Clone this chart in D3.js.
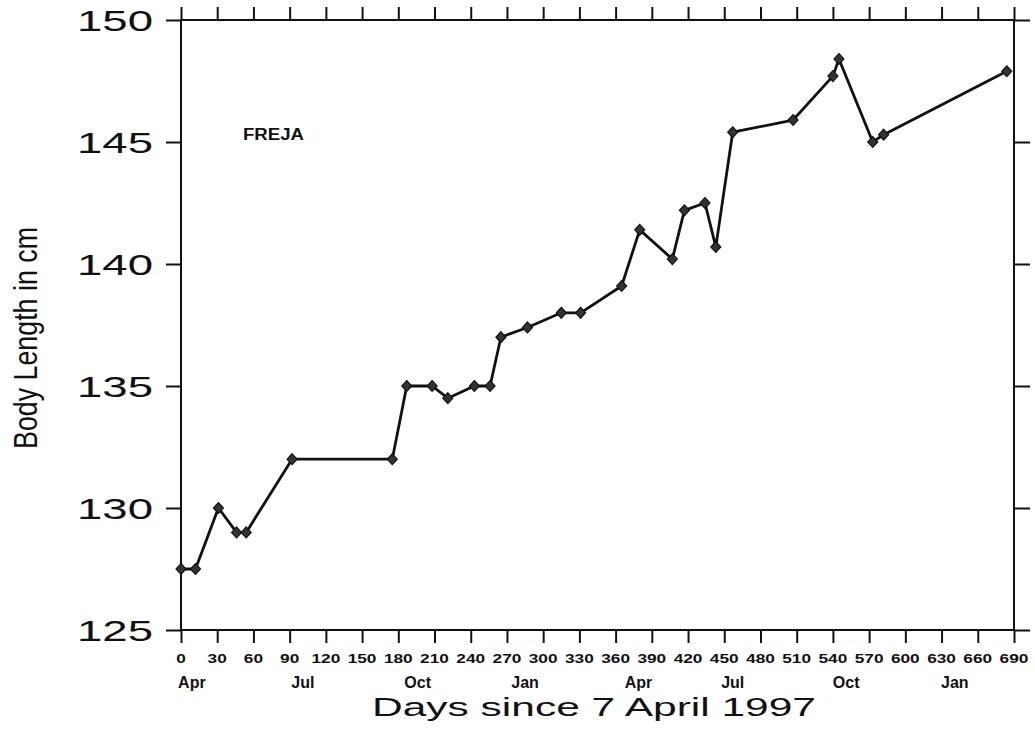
<!DOCTYPE html>
<html>
<head>
<meta charset="utf-8">
<script src="https://cdn.jsdelivr.net/npm/d3@7"></script>
<style>
  html, body { margin: 0; padding: 0; background: #fff; }
  svg { display: block; }
  text { font-family: "Liberation Sans", Arial, sans-serif; fill: #111; }
</style>
</head>
<body>
<svg id="chart" width="1035" height="729"></svg>
<script>
// ---- data ----
const days = [0, 12, 31, 46, 54, 92, 175, 187, 208, 221, 243, 256, 265, 287, 315, 331, 365, 380, 407, 417, 434, 443, 457, 507, 540, 545, 573, 582, 684];
const lengths = [127.5, 127.5, 130.0, 129.0, 129.0, 132.0, 132.0, 135.0, 135.0, 134.5, 135.0, 135.0, 137.0, 137.4, 138.0, 138.0, 139.1, 141.4, 140.2, 142.2, 142.5, 140.7, 145.4, 145.9, 147.7, 148.4, 145.0, 145.3, 147.9];
const xTicks = [0, 30, 60, 90, 120, 150, 180, 210, 240, 270, 300, 330, 360, 390, 420, 450, 480, 510, 540, 570, 600, 630, 660, 690];
const yTicks = [125, 130, 135, 140, 145, 150];
const monthLabels = ["Apr", "Jul", "Oct", "Jan", "Apr", "Jul", "Oct", "Jan"];
const monthDays = [9, 101, 196, 285, 379, 457, 551, 641];
const seriesName = "FREJA";
const xTitle = "Days since 7 April 1997";
const yTitle = "Body Length in cm";

// ---- layout ----
(function () {
const svg = d3.select("#chart");
const pL = 181, pR = 1014, pT = 20, pB = 630;
const x = d3.scaleLinear().domain([0, 690]).range([pL, pR]);
const y = d3.scaleLinear().domain([125, 150]).range([pB, pT]);

const stroke = "#111";

// frame
svg.append("rect")
  .attr("x", pL).attr("y", pT)
  .attr("width", pR - pL).attr("height", pB - pT)
  .attr("fill", "none").attr("stroke", stroke).attr("stroke-width", 2);

// bottom axis
const gb = svg.append("g").attr("transform", `translate(0,${pB})`)
  .call(d3.axisBottom(x).tickValues(xTicks).tickSize(13).tickFormat(""));
gb.select(".domain").remove();
gb.selectAll("line").attr("stroke", stroke).attr("stroke-width", 2);

// top axis
const gt = svg.append("g").attr("transform", `translate(0,${pT})`)
  .call(d3.axisTop(x).tickValues(xTicks).tickSize(13).tickFormat(""));
gt.select(".domain").remove();
gt.selectAll("line").attr("stroke", stroke).attr("stroke-width", 2);

// left axis
const gl = svg.append("g").attr("transform", `translate(${pL},0)`)
  .call(d3.axisLeft(y).tickValues(yTicks).tickSize(15).tickFormat(""));
gl.select(".domain").remove();
gl.selectAll("line").attr("stroke", stroke).attr("stroke-width", 2);

// right axis
const gr = svg.append("g").attr("transform", `translate(${pR},0)`)
  .call(d3.axisRight(y).tickValues(yTicks).tickSize(16).tickFormat(""));
gr.select(".domain").remove();
gr.selectAll("line").attr("stroke", stroke).attr("stroke-width", 2);

// x tick labels
svg.append("g").selectAll("text").data(xTicks).join("text")
  .attr("x", d => x(d)).attr("y", 663)
  .attr("text-anchor", "middle")
  .attr("font-size", 12).attr("font-weight", "bold")
  .attr("textLength", d => String(d).length * 9.6)
  .attr("lengthAdjust", "spacingAndGlyphs")
  .text(d => d);

// month labels
svg.append("g").selectAll("text").data(monthLabels).join("text")
  .attr("x", (d, i) => x(monthDays[i])).attr("y", 688)
  .attr("text-anchor", "middle")
  .attr("font-size", 16).attr("font-weight", "bold")
  .text(d => d);

// y tick labels
svg.append("g").selectAll("text").data(yTicks).join("text")
  .attr("x", 153).attr("y", d => y(d) + 11)
  .attr("text-anchor", "end")
  .attr("font-size", 30)
  .attr("textLength", 76)
  .attr("lengthAdjust", "spacingAndGlyphs")
  .text(d => d);

// axis titles
svg.append("text")
  .attr("x", 594).attr("y", 716)
  .attr("text-anchor", "middle")
  .attr("font-size", 26)
  .attr("textLength", 444)
  .attr("lengthAdjust", "spacingAndGlyphs")
  .text(xTitle);

svg.append("text")
  .attr("transform", "translate(37,338) rotate(-90)")
  .attr("text-anchor", "middle")
  .attr("font-size", 34)
  .attr("textLength", 222)
  .attr("lengthAdjust", "spacingAndGlyphs")
  .text(yTitle);

// series label
svg.append("text")
  .attr("x", 243).attr("y", 140)
  .attr("font-size", 16).attr("font-weight", "bold")
  .attr("textLength", 61)
  .attr("lengthAdjust", "spacingAndGlyphs")
  .text(seriesName);

// line
const pts = days.map((d, i) => [d, lengths[i]]);
svg.append("path")
  .datum(pts)
  .attr("fill", "none").attr("stroke", stroke).attr("stroke-width", 2.8)
  .attr("stroke-linejoin", "round")
  .attr("d", d3.line().x(d => x(d[0])).y(d => y(d[1])));

// markers
const diamond = d3.symbol().type(d3.symbolDiamond).size(48);
svg.append("g").selectAll("path").data(pts).join("path")
  .attr("transform", d => `translate(${x(d[0])},${y(d[1])}) scale(1.35,0.85)`)
  .attr("d", diamond)
  .attr("fill", "#333").attr("stroke", stroke).attr("stroke-width", 1);
})();
</script>
</body>
</html>
